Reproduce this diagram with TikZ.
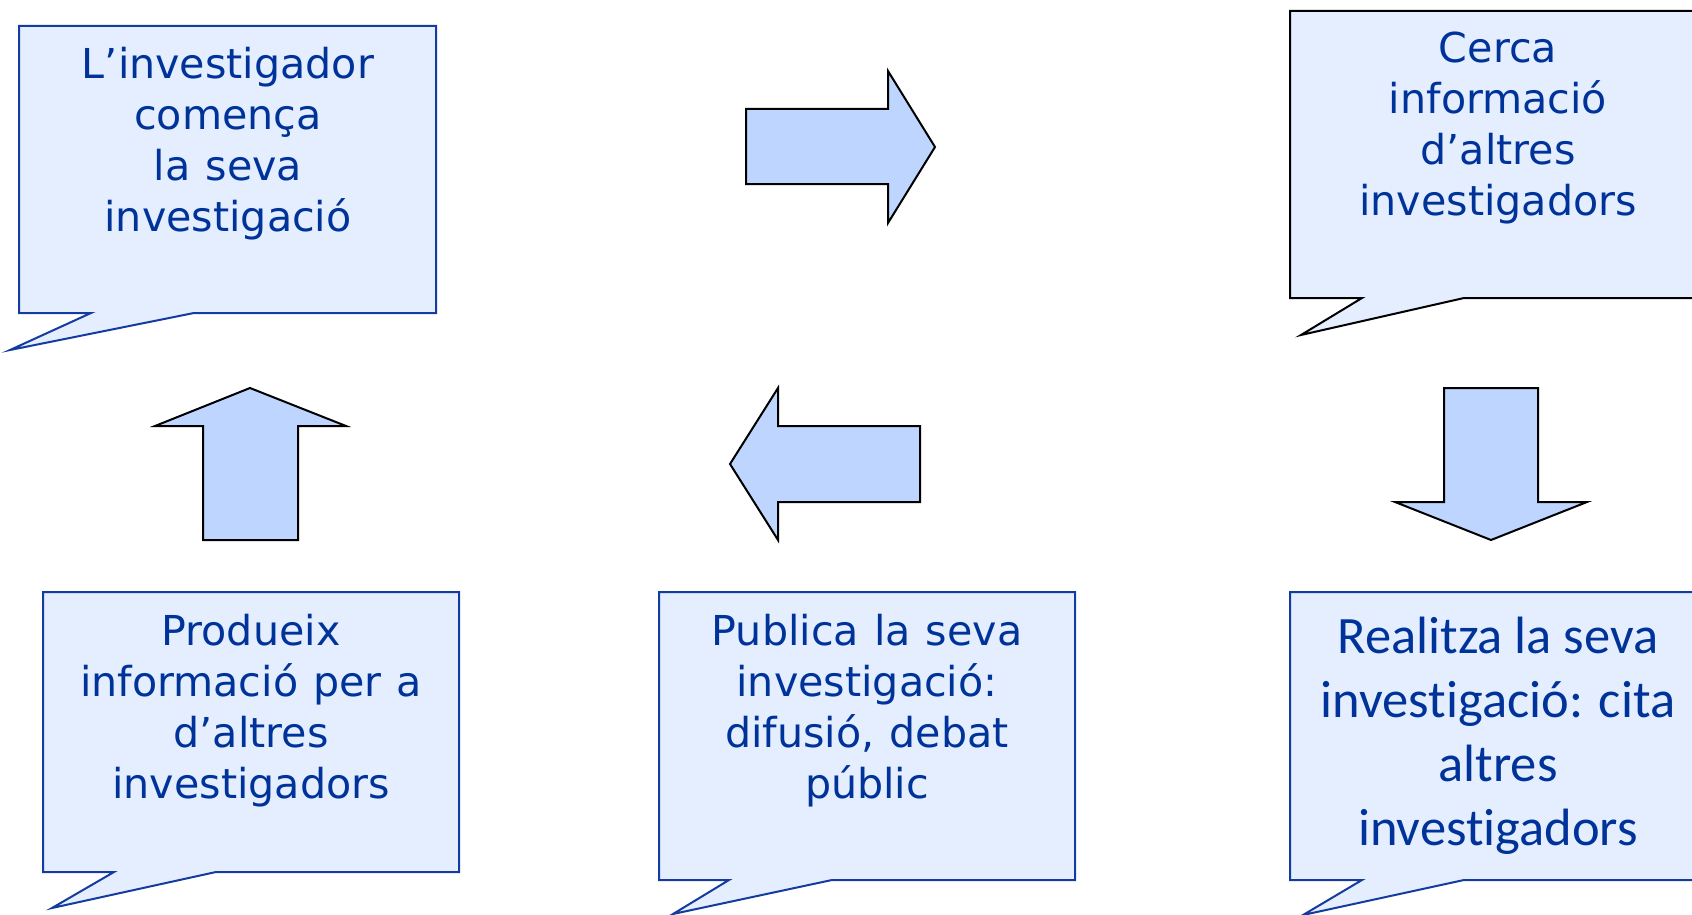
\documentclass[tikz,border=0pt]{standalone}
\usepackage{fontspec}
\setmainfont[WordSpace=1.15]{DejaVu Sans}
\newfontfamily\calibrifont[Ligatures=NoCommon]{Carlito}
\usepackage{xcolor}
\definecolor{txtblue}{RGB}{0,51,153}
\definecolor{edgeblue}{RGB}{20,60,160}
\definecolor{bubblefill}{RGB}{228,238,255}
\definecolor{arrowfill}{RGB}{189,213,255}

\tikzset{
  bubble/.style={draw=edgeblue, fill=bubblefill, line width=1pt, line join=miter},
  blockarrow/.style={draw=black, fill=arrowfill, line width=1pt, line join=miter},
  says/.style={anchor=base, align=center, inner sep=0pt, text=txtblue,
    font=\fontsize{20.6pt}{25.5pt}\selectfont},
}

\begin{document}
\begin{tikzpicture}[x=0.5pt, y=-0.5pt]
  \useasboundingbox (0,0) rectangle (1692,915);
  \clip (0,0) rectangle (1692,915);

  % speech bubbles
  \draw[bubble] (19,26) -- (436,26) -- (436,313) -- (194,313) -- (10,350) -- (91,313) -- (19,313) -- cycle;
  \draw[bubble, draw=black] (1290,11) -- (1706,11) -- (1706,298) -- (1464,298) -- (1301,335) -- (1362,298) -- (1290,298) -- cycle;
  \draw[bubble] (1290,592) -- (1706,592) -- (1706,880) -- (1464,880) -- (1303,915) -- (1362,880) -- (1290,880) -- cycle;
  \draw[bubble] (659,592) -- (1075,592) -- (1075,880) -- (832,880) -- (673,914) -- (729,880) -- (659,880) -- cycle;
  \draw[bubble] (43,592) -- (459,592) -- (459,872) -- (216,872) -- (52,908) -- (114,872) -- (43,872) -- cycle;

  % base anchor = last line
  \node[says] (inici) at (228,231) {L’investigador\\comença\\la seva\\investigació};
  \node[says] (cerca) at (1498,215) {Cerca\\informació\\d’altres\\investigadors};
  \node[says, font=\calibrifont\fontsize{26.25pt}{32pt}\selectfont] (realitza) at (1498,845)
    {Realitza la seva\\investigació: cita\\altres\\investigadors};
  \node[says] (publica) at (867,798) {Publica la seva\\investigació:\\difusió, debat\\públic};
  \node[says] (produeix) at (251,798) {Produeix\\informació per a\\d’altres\\investigadors};

  % block arrows
  \draw[blockarrow] (746,109) -- (888,109) -- (888,71) -- (935,147) -- (888,223) -- (888,184) -- (746,184) -- cycle;
  \draw[blockarrow] (1444,388) -- (1538,388) -- (1538,502) -- (1587,502) -- (1491,540) -- (1395,502) -- (1444,502) -- cycle;
  \draw[blockarrow] (920,426) -- (778,426) -- (778,388) -- (730,464) -- (778,540) -- (778,502) -- (920,502) -- cycle;
  \draw[blockarrow] (203,540) -- (203,426) -- (155,426) -- (250,388) -- (346,426) -- (298,426) -- (298,540) -- cycle;
\end{tikzpicture}
\end{document}
